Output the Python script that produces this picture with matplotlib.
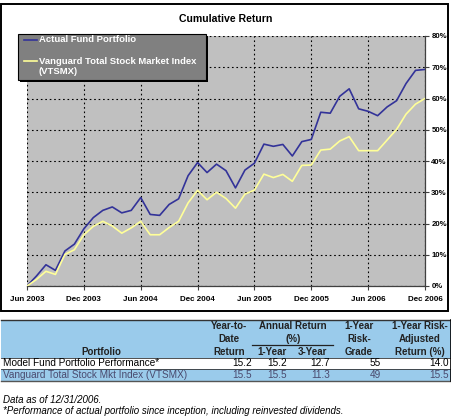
import matplotlib
matplotlib.use("Agg")
import matplotlib.pyplot as plt
from matplotlib.patches import Rectangle
from matplotlib.lines import Line2D

W, H = 452, 420
plt.rcParams['font.family'] = ['Liberation Sans', 'DejaVu Sans']

# monthly cumulative returns (%), Jun 2003 .. Dec 2006
fund = [0, 3.2, 6.8, 5.0, 11.2, 13.4, 18.3, 21.9, 24.2, 25.3, 23.4, 24.2, 28.3,
        22.9, 22.6, 26.1, 27.9, 35.3, 39.5, 36.3, 39.0, 36.9, 31.4, 37.1, 39.3,
        45.4, 44.7, 45.3, 41.6, 46.2, 46.9, 55.6, 55.3, 60.7, 63.1, 56.7, 55.9,
        54.5, 57.3, 59.3, 64.8, 69.0, 69.3]
index = [0, 2.1, 4.7, 3.7, 10.1, 11.6, 16.4, 19.1, 20.7, 19.2, 16.9, 18.6, 20.7,
         16.4, 16.4, 18.7, 20.7, 26.6, 30.6, 27.6, 30.0, 28.0, 24.9, 29.4, 30.7,
         35.8, 34.7, 35.7, 33.5, 38.6, 38.7, 43.5, 43.8, 46.4, 47.8, 43.3, 43.3,
         43.3, 46.7, 50.1, 55.0, 58.2, 60.0]
xlabels = ["Jun 2003", "Dec 2003", "Jun 2004", "Dec 2004", "Jun 2005",
           "Dec 2005", "Jun 2006", "Dec 2006"]
series_names = ["Actual Fund Portfolio",
                "Vanguard Total Stock Market Index\n(VTSMX)"]

# table data
row_names = ["Model Fund Portfolio Performance*",
             "Vanguard Total Stock Mkt Index (VTSMX)"]
ytd = ["15.2", "15.5"]
ret_1y = ["15.2", "15.5"]
ret_3y = ["12.7", "11.3"]
risk_grade = ["55", "49"]
risk_adj = ["14.0", "15.5"]

BLUE = "#333399"
YELLOW = "#FFFF99"
HEAD = "#9ACBEB"


def px_axes(x0, y0, x1, y1, **kw):
    return fig.add_axes([x0 / W, 1 - y1 / H, (x1 - x0) / W, (y1 - y0) / H], **kw)


fig = plt.figure(figsize=(W / 100, H / 100), dpi=100)

# background layer in pixel coords
bg = fig.add_axes([0, 0, 1, 1])
bg.set_xlim(0, W)
bg.set_ylim(H, 0)
bg.axis("off")

# chart frame
bg.add_patch(Rectangle((1.5, 3.5), 447, 307, fill=False, ec="black", lw=1.4))
bg.text(226, 19, "Cumulative Return", ha="center", va="center",
        fontsize=7.6, fontweight="bold")

# main plot
ax = px_axes(27, 36, 425, 286)
ax.set_facecolor("#C0C0C0")
months = list(range(len(fund)))
ax.plot(months, fund, color=BLUE, lw=1.2, zorder=3)
ax.plot(months, index, color=YELLOW, lw=1.2, zorder=3)
ax.set_xlim(0, 42)
ax.set_ylim(0, 80)
ax.set_xticks(range(0, 43, 6))
ax.set_xticklabels(xlabels, fontsize=5.8, fontweight="bold")
ax.set_yticks(range(0, 81, 10))
ax.set_yticklabels([f"{v}%" for v in range(0, 81, 10)], fontsize=5.6,
                   fontweight="bold")
ax.yaxis.tick_right()
ax.tick_params(axis="x", length=3, width=0.8, color="#404040", pad=4)
ax.tick_params(axis="y", length=3, width=0.8, color="#404040", pad=1.5)
ax.grid(True, color="black", ls=(0, (1.5, 2.5)), lw=0.8)
ax.set_axisbelow(True)
for s in ["left", "top"]:
    ax.spines[s].set_visible(False)
for s in ["right", "bottom"]:
    ax.spines[s].set_color("#404040")
    ax.spines[s].set_linewidth(0.9)

# legend overlay
ov = fig.add_axes([0, 0, 1, 1], zorder=5)
ov.set_xlim(0, W)
ov.set_ylim(H, 0)
ov.axis("off")
ov.patch.set_alpha(0)
ov.add_patch(Rectangle((20.5, 35.5), 188, 46, fc="black", ec="none"))
ov.add_patch(Rectangle((18.5, 33.5), 188, 46, fc="#808080", ec="black", lw=0.8))
ov.add_line(Line2D([24, 37], [40, 40], color=BLUE, lw=1.2))
ov.add_line(Line2D([24, 37], [61, 61], color=YELLOW, lw=1.2))
ov.text(39, 40, series_names[0], color="white", fontsize=6.8,
        fontweight="bold", va="center")
ov.text(39, 61, series_names[1].split("\n")[0], color="white", fontsize=6.8,
        fontweight="bold", va="center")
ov.text(39, 72, series_names[1].split("\n")[1], color="white", fontsize=6.8,
        fontweight="bold", va="center")

# table
bg.add_patch(Rectangle((1, 320), 450, 37.5, fc=HEAD, ec="none"))
bg.add_patch(Rectangle((1, 357.5), 450, 11, fc="white", ec="none"))
bg.add_patch(Rectangle((1, 368.5), 450, 12.5, fc=HEAD, ec="none"))
bg.plot([1, 451], [320, 320], color="#333333", lw=1.0)
bg.plot([1, 451], [381, 381], color="#555555", lw=1.0)
bg.plot([1, 451], [357.5, 357.5], color="#333333", lw=0.6)
bg.plot([1, 451], [368.5, 368.5], color="#333333", lw=0.6)
bg.plot([451, 451], [320, 381], color="black", lw=1.2)
bg.plot([252, 333], [344.5, 344.5], color="#222222", lw=0.9)

hfs = 7.0
hdr = dict(ha="center", va="center", fontsize=hfs, fontweight="bold",
           color="#222222")
bg.text(101, 352, "Portfolio", **hdr)
bg.text(229, 326, "Year-to-", **hdr)
bg.text(229, 339, "Date", **hdr)
bg.text(229, 352, "Return", **hdr)
bg.text(293, 326, "Annual Return", **hdr)
bg.text(293, 339, "(%)", **hdr)
bg.text(272, 352, "1-Year", **hdr)
bg.text(312, 352, "3-Year", **hdr)
bg.text(359, 326, "1-Year", **hdr)
bg.text(359, 339, "Risk-", **hdr)
bg.text(359, 352, "Grade", **hdr)
bg.text(420, 326, "1-Year Risk-", **hdr)
bg.text(420, 339, "Adjusted", **hdr)
bg.text(420, 352, "Return (%)", **hdr)

row_y = [363, 375]
row_col = ["black", "#4A4A6E"]
for i in range(2):
    kw = dict(va="center", fontsize=7.2, color=row_col[i])
    bg.text(3, row_y[i], row_names[i], ha="left", **kw)
    bg.text(252, row_y[i], ytd[i], ha="right", **kw)
    bg.text(287, row_y[i], ret_1y[i], ha="right", **kw)
    bg.text(330, row_y[i], ret_3y[i], ha="right", **kw)
    bg.text(381, row_y[i], risk_grade[i], ha="right", **kw)
    bg.text(449, row_y[i], risk_adj[i], ha="right", **kw)

bg.text(3, 400, "Data as of 12/31/2006.", fontsize=7.0, style="italic",
        va="center")
bg.text(3, 411, "*Performance of actual portfolio since inception, including "
        "reinvested dividends.", fontsize=7.0, style="italic", va="center")

fig.savefig("out.png", dpi=100)
